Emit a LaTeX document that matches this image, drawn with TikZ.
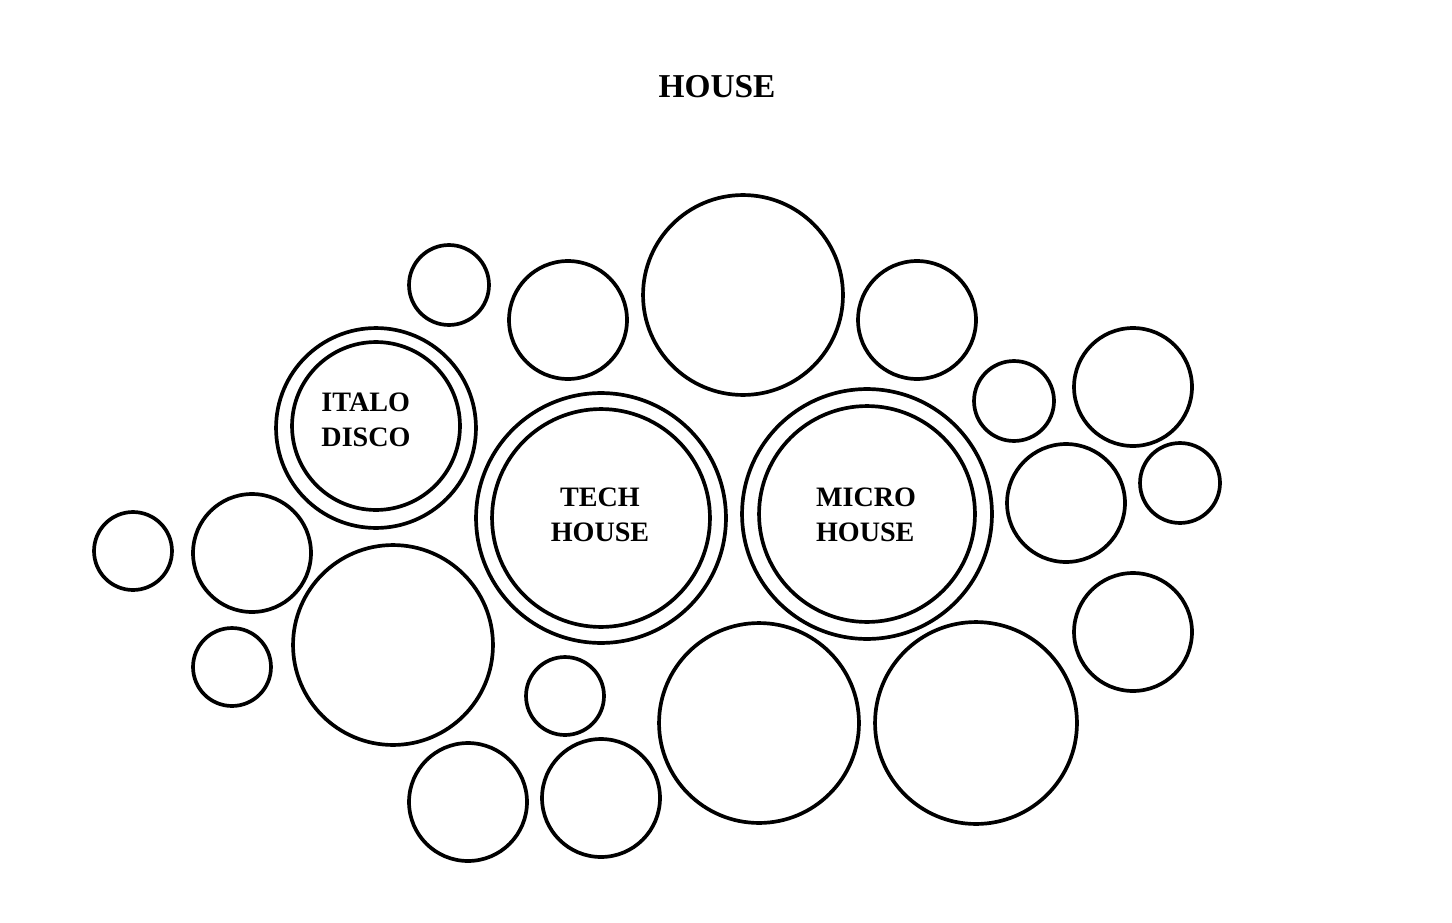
\documentclass[tikz,border=0pt]{standalone}
\usepackage{fontspec}
\setmainfont{Liberation Serif}

\begin{document}
\begin{tikzpicture}[x=0.02cm,y=-0.02cm,
    bubble/.style={circle,draw,line width=2.1pt,inner sep=0pt,minimum size=#1*0.04cm},
    genre/.style={font=\fontsize{16}{20}\selectfont\bfseries,inner sep=0pt}]
    \useasboundingbox (0,0) rectangle (1452,922);

    % title
    \node[font=\fontsize{19}{23}\selectfont\bfseries,inner sep=0pt] (title) at (717,87) {HOUSE};

    % plain bubbles
    \foreach \px/\py/\r [count=\i] in {449/285/40, 568/320/59, 743/295/100,
        917/320/59, 1014/401/40, 1133/387/59, 1066/503/59, 1180/483/40,
        133/551/39, 252/553/59, 232/667/39, 393/645/100, 565/696/39,
        759/723/100, 976/723/101, 1133/632/59, 468/802/59, 601/798/59}
        \node[bubble=\r] (b\i) at (\px,\py) {};

    % named genres, drawn as two rings
    \node[bubble=100] (italo) at (376,428) {};
    \node[bubble=84] (italo-in) at (376,426) {};
    \node[genre,align=left] (italo-label) at (366,420) {ITALO\\DISCO};

    \node[bubble=125] (tech) at (601,518) {};
    \node[bubble=109] (tech-in) at (601,518) {};
    \node[genre,align=center] (tech-label) at (600,515) {TECH\\HOUSE};

    \node[bubble=125] (micro) at (867,514) {};
    \node[bubble=108] (micro-in) at (867,514) {};
    \node[genre,align=left] (micro-label) at (866,515) {MICRO\\HOUSE};
\end{tikzpicture}
\end{document}
